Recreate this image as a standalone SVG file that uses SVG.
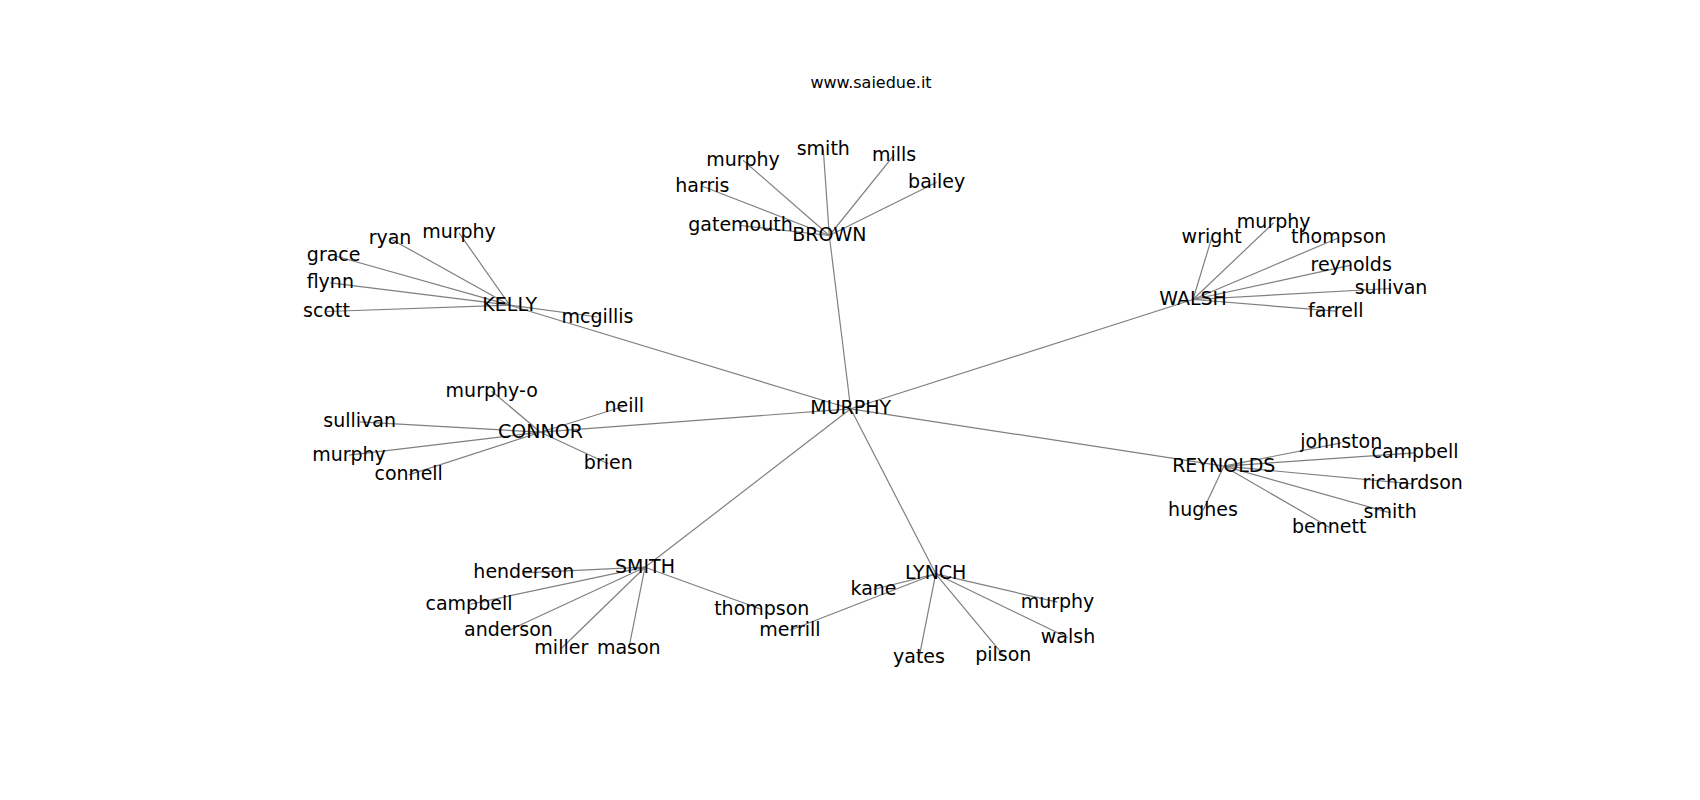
<svg xmlns="http://www.w3.org/2000/svg" width="1700" height="800" viewBox="0 0 1700 800">
<style>
text{font-family:"DejaVu Sans","Liberation Sans",sans-serif;fill:#000;text-anchor:middle}
.n text{font-size:19px}
.t{font-size:16px}
#edges line{stroke:#7f7f7f;stroke-width:1.2}
</style>
<rect width="1700" height="800" fill="#fff"/>
<text class="t" x="871" y="87.7">www.saiedue.it</text>
<g id="edges">
<line x1="850.7" y1="408.8" x2="829.3" y2="235.5"/>
<line x1="850.7" y1="408.8" x2="509.7" y2="305.2"/>
<line x1="850.7" y1="408.8" x2="1193" y2="299.5"/>
<line x1="850.7" y1="408.8" x2="540.5" y2="432.2"/>
<line x1="850.7" y1="408.8" x2="1223.8" y2="466.2"/>
<line x1="850.7" y1="408.8" x2="645" y2="567.2"/>
<line x1="850.7" y1="408.8" x2="935.7" y2="573.8"/>
<line x1="829.3" y1="235.5" x2="743" y2="160.2"/>
<line x1="829.3" y1="235.5" x2="823.3" y2="149.5"/>
<line x1="829.3" y1="235.5" x2="894" y2="155.2"/>
<line x1="829.3" y1="235.5" x2="702.3" y2="186.2"/>
<line x1="829.3" y1="235.5" x2="936.7" y2="182.2"/>
<line x1="829.3" y1="235.5" x2="740.5" y2="225.5"/>
<line x1="509.7" y1="305.2" x2="390" y2="238.5"/>
<line x1="509.7" y1="305.2" x2="459" y2="232.8"/>
<line x1="509.7" y1="305.2" x2="333.7" y2="255.5"/>
<line x1="509.7" y1="305.2" x2="330.3" y2="282.8"/>
<line x1="509.7" y1="305.2" x2="326.5" y2="311.5"/>
<line x1="509.7" y1="305.2" x2="597.5" y2="317"/>
<line x1="1193" y1="299.5" x2="1211.7" y2="237.8"/>
<line x1="1193" y1="299.5" x2="1273.7" y2="222.8"/>
<line x1="1193" y1="299.5" x2="1338.7" y2="237.8"/>
<line x1="1193" y1="299.5" x2="1351.2" y2="265.2"/>
<line x1="1193" y1="299.5" x2="1391" y2="288.5"/>
<line x1="1193" y1="299.5" x2="1335.8" y2="311.2"/>
<line x1="540.5" y1="432.2" x2="491.7" y2="391.2"/>
<line x1="540.5" y1="432.2" x2="624.2" y2="406.2"/>
<line x1="540.5" y1="432.2" x2="359.7" y2="421.8"/>
<line x1="540.5" y1="432.2" x2="349" y2="455.2"/>
<line x1="540.5" y1="432.2" x2="608.3" y2="463.8"/>
<line x1="540.5" y1="432.2" x2="408.7" y2="474.9"/>
<line x1="1223.8" y1="466.2" x2="1341.2" y2="442.8"/>
<line x1="1223.8" y1="466.2" x2="1415" y2="452.8"/>
<line x1="1223.8" y1="466.2" x2="1412.7" y2="483.8"/>
<line x1="1223.8" y1="466.2" x2="1203" y2="510.5"/>
<line x1="1223.8" y1="466.2" x2="1390.2" y2="512.8"/>
<line x1="1223.8" y1="466.2" x2="1329.2" y2="527.2"/>
<line x1="645" y1="567.2" x2="523.8" y2="572.8"/>
<line x1="645" y1="567.2" x2="469" y2="604.5"/>
<line x1="645" y1="567.2" x2="508.5" y2="630.5"/>
<line x1="645" y1="567.2" x2="561.3" y2="648.5"/>
<line x1="645" y1="567.2" x2="628.8" y2="648.5"/>
<line x1="645" y1="567.2" x2="761.8" y2="609.5"/>
<line x1="935.7" y1="573.8" x2="873.5" y2="589.5"/>
<line x1="935.7" y1="573.8" x2="1057.5" y2="602.2"/>
<line x1="935.7" y1="573.8" x2="790" y2="630.2"/>
<line x1="935.7" y1="573.8" x2="1068" y2="637.8"/>
<line x1="935.7" y1="573.8" x2="919" y2="657.8"/>
<line x1="935.7" y1="573.8" x2="1003.3" y2="655.2"/>
</g>
<g class="n">
<g id="n-murphy-root"><text x="850.7" y="414.3">MURPHY</text></g>
<g id="n-brown"><text x="829.3" y="241">BROWN</text></g>
<g id="n-brown-murphy"><text x="743" y="165.7">murphy</text></g>
<g id="n-brown-smith"><text x="823.3" y="155">smith</text></g>
<g id="n-brown-mills"><text x="894" y="160.7">mills</text></g>
<g id="n-brown-harris"><text x="702.3" y="191.7">harris</text></g>
<g id="n-brown-bailey"><text x="936.7" y="187.7">bailey</text></g>
<g id="n-brown-gatemouth"><text x="740.5" y="231">gatemouth</text></g>
<g id="n-kelly"><text x="509.7" y="310.7">KELLY</text></g>
<g id="n-kelly-ryan"><text x="390" y="244">ryan</text></g>
<g id="n-kelly-murphy"><text x="459" y="238.3">murphy</text></g>
<g id="n-kelly-grace"><text x="333.7" y="261">grace</text></g>
<g id="n-kelly-flynn"><text x="330.3" y="288.3">flynn</text></g>
<g id="n-kelly-scott"><text x="326.5" y="317">scott</text></g>
<g id="n-kelly-mcgillis"><text x="597.5" y="322.5">mcgillis</text></g>
<g id="n-walsh"><text x="1193" y="305">WALSH</text></g>
<g id="n-walsh-wright"><text x="1211.7" y="243.3">wright</text></g>
<g id="n-walsh-murphy"><text x="1273.7" y="228.3">murphy</text></g>
<g id="n-walsh-thompson"><text x="1338.7" y="243.3">thompson</text></g>
<g id="n-walsh-reynolds"><text x="1351.2" y="270.7">reynolds</text></g>
<g id="n-walsh-sullivan"><text x="1391" y="294">sullivan</text></g>
<g id="n-walsh-farrell"><text x="1335.8" y="316.7">farrell</text></g>
<g id="n-connor"><text x="540.5" y="437.7">CONNOR</text></g>
<g id="n-connor-murphy-o"><text x="491.7" y="396.7">murphy-o</text></g>
<g id="n-connor-neill"><text x="624.2" y="411.7">neill</text></g>
<g id="n-connor-sullivan"><text x="359.7" y="427.3">sullivan</text></g>
<g id="n-connor-murphy"><text x="349" y="460.7">murphy</text></g>
<g id="n-connor-brien"><text x="608.3" y="469.3">brien</text></g>
<g id="n-connor-connell"><text x="408.7" y="480.4">connell</text></g>
<g id="n-reynolds"><text x="1223.8" y="471.7">REYNOLDS</text></g>
<g id="n-reynolds-johnston"><text x="1341.2" y="448.3">johnston</text></g>
<g id="n-reynolds-campbell"><text x="1415" y="458.3">campbell</text></g>
<g id="n-reynolds-richardson"><text x="1412.7" y="489.3">richardson</text></g>
<g id="n-reynolds-hughes"><text x="1203" y="516">hughes</text></g>
<g id="n-reynolds-smith"><text x="1390.2" y="518.3">smith</text></g>
<g id="n-reynolds-bennett"><text x="1329.2" y="532.7">bennett</text></g>
<g id="n-smith"><text x="645" y="572.7">SMITH</text></g>
<g id="n-smith-henderson"><text x="523.8" y="578.3">henderson</text></g>
<g id="n-smith-campbell"><text x="469" y="610">campbell</text></g>
<g id="n-smith-anderson"><text x="508.5" y="636">anderson</text></g>
<g id="n-smith-miller"><text x="561.3" y="654">miller</text></g>
<g id="n-smith-mason"><text x="628.8" y="654">mason</text></g>
<g id="n-smith-thompson"><text x="761.8" y="615">thompson</text></g>
<g id="n-lynch"><text x="935.7" y="579.3">LYNCH</text></g>
<g id="n-lynch-kane"><text x="873.5" y="595">kane</text></g>
<g id="n-lynch-murphy"><text x="1057.5" y="607.7">murphy</text></g>
<g id="n-lynch-merrill"><text x="790" y="635.7">merrill</text></g>
<g id="n-lynch-walsh"><text x="1068" y="643.3">walsh</text></g>
<g id="n-lynch-yates"><text x="919" y="663.3">yates</text></g>
<g id="n-lynch-pilson"><text x="1003.3" y="660.7">pilson</text></g>
</g>
</svg>
